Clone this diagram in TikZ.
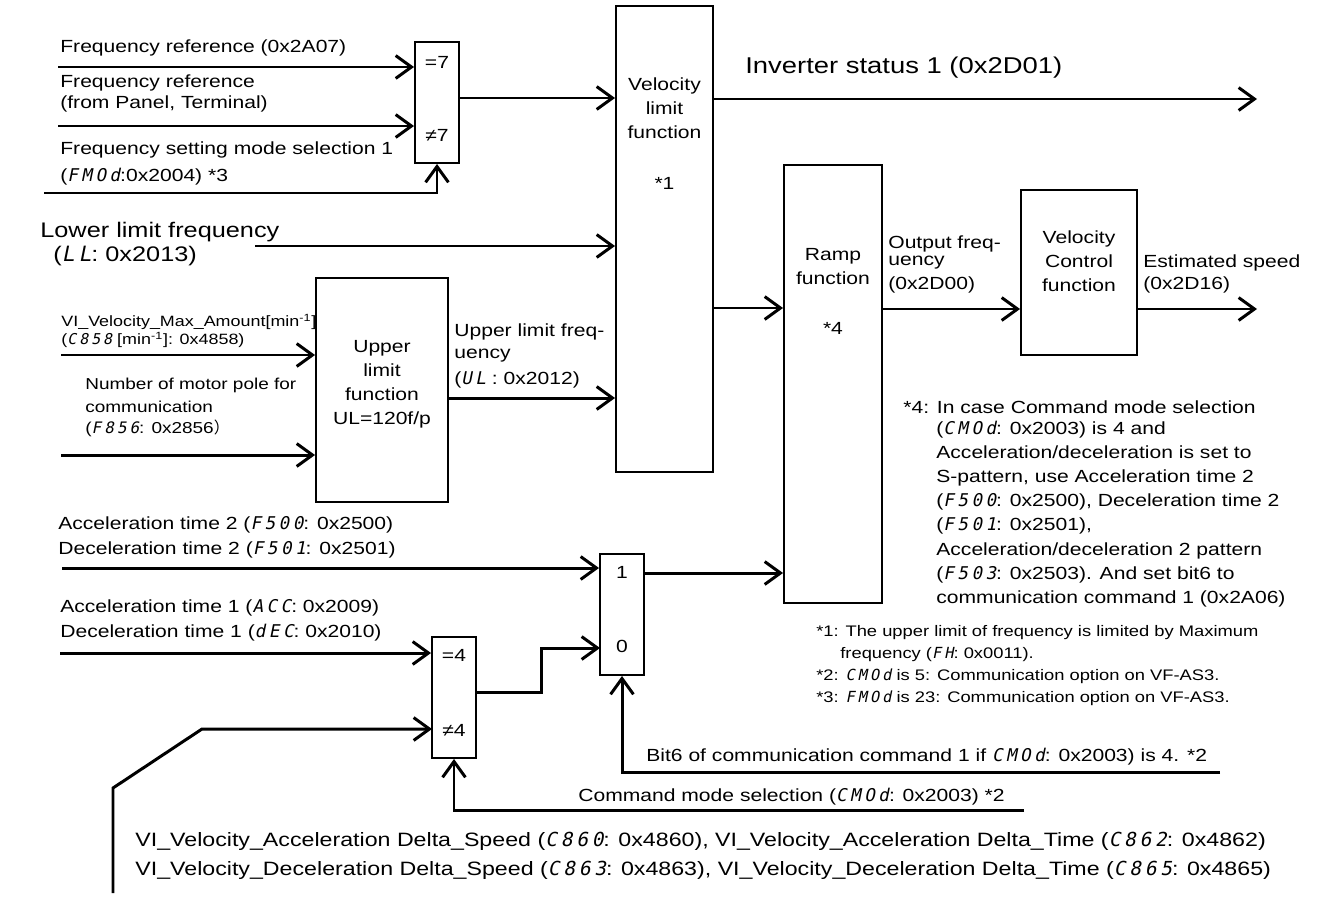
\documentclass[tikz,border=0pt]{standalone}
\usepackage{fontspec}
\setmainfont{Liberation Sans}[FakeStretch=1.2]
\newfontfamily\segfont{DejaVu Sans Mono}[FakeSlant=0.2,LetterSpace=20]
\newfontfamily\cjk{Noto Sans CJK JP}
\usepackage{tikz}
\usetikzlibrary{arrows.meta,positioning}
\newcommand{\seg}[1]{{\segfont #1}}
\newcommand{\minv}{min\textsuperscript{-1}}

\begin{document}
\begin{tikzpicture}[x=0.02cm, y=-0.02cm,
  blk/.style={draw, line width=1.1pt, inner sep=0pt},
  lbl/.style={inner sep=0pt, anchor=west, align=left, font=\fontsize{10}{13.7}\selectfont},
  ctr/.style={inner sep=0pt, align=center, font=\fontsize{10}{13.7}\selectfont},
  big/.style={lbl, font=\fontsize{12}{15}\selectfont},
  sml/.style={lbl, font=\fontsize{8.5}{12}\selectfont},
  note/.style={lbl, font=\fontsize{8.7}{12}\selectfont},
  arr/.style={line width=1.7pt, -{Straight Barb[length=9pt,width=13pt]}}]
  \useasboundingbox (0,0) rectangle (1332,896);

  % blocks
  \node[blk, minimum width=0.88cm, minimum height=2.42cm] (sel7) at (437,102.5) {};
  \node[blk, minimum width=1.94cm, minimum height=9.32cm] (vlim) at (664.5,239) {};
  \node[blk, minimum width=2.64cm, minimum height=4.48cm] (ulim) at (382,390) {};
  \node[blk, minimum width=1.96cm, minimum height=8.76cm] (ramp) at (833,384) {};
  \node[blk, minimum width=2.32cm, minimum height=3.3cm] (vctl) at (1079,272.5) {};
  \node[blk, minimum width=0.88cm, minimum height=2.42cm] (mux) at (622,614.5) {};
  \node[blk, minimum width=0.88cm, minimum height=2.42cm] (sel4) at (454,697.5) {};

  % block texts
  \node[ctr] (sel7a) at (437,62) {=7};
  \node[ctr] (sel7b) at (437,135) {≠7};
  \node[ctr] (vlimt) at (664.5,108) {Velocity\\limit\\function};
  \node[ctr] (vlimn) at (664.5,183) {*1};
  \node[ctr] (ulimt) at (382,384) {Upper\\limit\\function\\UL=120f/p};
  \node[ctr] (rampt) at (833,267) {Ramp\\function};
  \node[ctr] (rampn) at (833,328) {*4};
  \node[ctr] (vctlt) at (1079,261) {Velocity\\Control\\function};
  \node[ctr] (muxa) at (622,572) {1};
  \node[ctr] (muxb) at (622,646) {0};
  \node[ctr] (sel4a) at (454,655) {=4};
  \node[ctr] (sel4b) at (454,730) {≠4};

  % free ends
  \coordinate (fref1) at (58,67);
  \coordinate (fref2) at (58,126);
  \coordinate (fmod) at (44,193);
  \coordinate (llim) at (255,246);
  \coordinate (vmax) at (61,355);
  \coordinate (pole) at (61,455);
  \coordinate (ulout) at (448,398);
  \coordinate (inv) at (1257,99);
  \coordinate (rin) at (713,308);
  \coordinate (est) at (1257,309);
  \coordinate (acc2) at (62,568);
  \coordinate (mout) at (644,573);
  \coordinate (acc1) at (60,653);
  \coordinate (s4out) at (476,692);
  \coordinate (mzero) at (600,648);
  \coordinate (delta) at (113,893);
  \coordinate (ne4) at (432,729);
  \coordinate (cmod) at (1024,810);
  \coordinate (bit6) at (1220,772);

  % connectors
  \draw[arr] (fref1) -- (fref1 -| sel7.west);
  \draw[arr] (fref2) -- (fref2 -| sel7.west);
  \draw[arr] (fmod) -| (sel7.south);
  \draw[arr] (sel7.east |- 0,98) -- (vlim.west |- 0,98);
  \draw[arr] (vlim.east |- inv) -- (inv);
  \draw[arr] (llim) -- (llim -| vlim.west);
  \draw[arr] (vmax) -- (vmax -| ulim.west);
  \draw[arr] (pole) -- (pole -| ulim.west);
  \draw[arr] (ulout) -- (ulout -| vlim.west);
  \draw[arr] (rin) -- (rin -| ramp.west);
  \draw[arr] (ramp.east |- est) -- (vctl.west |- est);
  \draw[arr] (vctl.east |- est) -- (est);
  \draw[arr] (acc2) -- (acc2 -| mux.west);
  \draw[arr] (mout) -- (mout -| ramp.west);
  \draw[arr] (acc1) -- (acc1 -| sel4.west);
  \draw[arr] (s4out) -- ++(65,0) |- (mzero);
  \draw[arr] (delta) -- ++(0,-105) -- ++(89,-59) -- (ne4);
  \draw[arr] (cmod) -| (sel4.south);
  \draw[arr] (bit6) -| (mux.south);

  % input labels
  \node[lbl] (tfref1) at (60,48) {Frequency reference (0x2A07)};
  \node[lbl] (tfref2) at (60,83) {Frequency reference};
  \node[lbl] (tfref3) at (60,104) {(from Panel, Terminal)};
  \node[lbl] (tfmod1) at (60,150) {Frequency setting mode selection 1};
  \node[lbl] (tfmod2) at (60,177) {(\seg{FMOd}:0x2004) *3};
  \node[big] (tllim1) at (40,232) {Lower limit frequency};
  \node[big] (tllim2) at (53,256) {(\seg{LL}: 0x2013)};
  \node[sml] (tvmax1) at (61,322) {VI\_Velocity\_Max\_Amount[\minv]};
  \node[sml] (tvmax2) at (61,340) {(\seg{C858} [\minv]: 0x4858)};
  \node[sml, font=\fontsize{9}{12}\selectfont] (tpole1) at (85,385) {Number of motor pole for};
  \node[sml, font=\fontsize{9}{12}\selectfont] (tpole2) at (85,407) {communication};
  \node[sml, font=\fontsize{9}{12}\selectfont] (tpole3) at (85,428) {(\seg{F856}: 0x2856{\cjk ）}};
  \node[lbl] (tulim1) at (454,332) {Upper limit freq-};
  \node[lbl] (tulim2) at (454,356) {uency};
  \node[lbl] (tulim3) at (454,380) {(\seg{UL} : 0x2012)};
  \node[big, font=\fontsize{13}{16}\selectfont] (tinv) at (745,68) {Inverter status 1 (0x2D01)};
  \node[lbl] (tout1) at (888,244) {Output freq-};
  \node[lbl] (tout2) at (888,263) {uency};
  \node[lbl] (tout3) at (888,285) {(0x2D00)};
  \node[lbl] (test1) at (1143,263) {Estimated speed};
  \node[lbl] (test2) at (1143,285) {(0x2D16)};
  \node[lbl] (tacc2) at (58,525) {Acceleration time 2 (\seg{F500}: 0x2500)};
  \node[lbl] (tdec2) at (58,550) {Deceleration time 2 (\seg{F501}: 0x2501)};
  \node[lbl] (tacc1) at (60,608) {Acceleration time 1 (\seg{ACC}: 0x2009)};
  \node[lbl] (tdec1) at (60,633) {Deceleration time 1 (\seg{dEC}: 0x2010)};
  \node[lbl] (tbit6) at (646,757) {Bit6 of communication command 1 if \seg{CMOd}: 0x2003) is 4. *2};
  \node[lbl] (tcmod) at (578,797) {Command mode selection (\seg{CMOd}: 0x2003) *2};
  \node[lbl, font=\fontsize{11}{14}\selectfont] (tdacc) at (135,841) {VI\_Velocity\_Acceleration Delta\_Speed (\seg{C860}: 0x4860), VI\_Velocity\_Acceleration Delta\_Time (\seg{C862}: 0x4862)};
  \node[lbl, font=\fontsize{11}{14}\selectfont] (tddec) at (135,870) {VI\_Velocity\_Deceleration Delta\_Speed (\seg{C863}: 0x4863), VI\_Velocity\_Deceleration Delta\_Time (\seg{C865}: 0x4865)};

  % notes
  \node[lbl] (n4a) at (903,407) {*4: In case Command mode selection};
  \node[lbl, anchor=north west] (n4b) at (936,421) {(\seg{CMOd}: 0x2003) is 4 and\\Acceleration/deceleration is set to\\S-pattern, use Acceleration time 2\\(\seg{F500}: 0x2500), Deceleration time 2\\(\seg{F501}: 0x2501),\\Acceleration/deceleration 2 pattern\\(\seg{F503}: 0x2503). And set bit6 to\\communication command 1 (0x2A06)};
  \node[note] (n1a) at (816,633) {*1: The upper limit of frequency is limited by Maximum};
  \node[note] (n1b) at (840,655) {frequency (\seg{FH}: 0x0011).};
  \node[note] (n2) at (816,676) {*2: \seg{CMOd} is 5: Communication option on VF-AS3.};
  \node[note] (n3) at (816,698) {*3: \seg{FMOd} is 23: Communication option on VF-AS3.};
\end{tikzpicture}
\end{document}
